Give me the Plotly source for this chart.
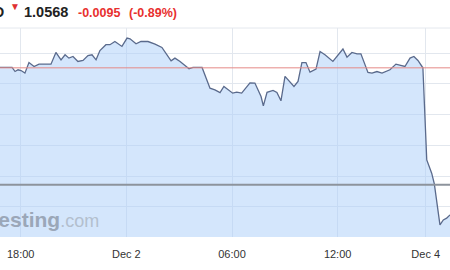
import plotly.graph_objects as go

# hours of trading time since Dec 1 18:00 (weekend gap compressed)
hours = [-1.18, -0.49, -0.32, -0.15, 0.02, 0.24, 0.47, 0.76, 1.04, 1.72,
         2.00, 2.29, 2.52, 2.74, 2.97, 3.25, 3.54, 3.82, 4.05, 4.28,
         4.50, 4.84, 5.07, 5.35, 5.75, 6.04, 6.21, 6.55, 6.83, 7.23,
         7.63, 8.02, 8.54, 8.76, 9.05, 9.27, 9.56, 9.78, 10.30, 10.75,
         11.03, 11.32, 11.54, 12.04, 12.27, 12.55, 13.02, 13.30, 13.65, 13.78,
         13.99, 14.33, 14.55, 14.78, 15.01, 15.52, 15.75, 15.97, 16.20, 16.43,
         16.77, 17.00, 17.28, 17.73, 18.30, 18.53, 18.81, 19.10, 19.32, 19.72,
         19.95, 20.23, 20.52, 20.97, 21.31, 21.82, 22.11, 22.33, 22.56, 22.79,
         22.84, 23.06, 23.34, 23.49, 23.81, 24.00, 24.19, 24.38]
prices = [1.06633, 1.06633, 1.06600, 1.06614, 1.06608, 1.06587, 1.06673, 1.06641, 1.06660, 1.06660,
          1.06755, 1.06695, 1.06736, 1.06709, 1.06722, 1.06682, 1.06690, 1.06730, 1.06736, 1.06695,
          1.06771, 1.06818, 1.06818, 1.06844, 1.06804, 1.06872, 1.06866, 1.06826, 1.06844, 1.06844,
          1.06823, 1.06796, 1.06687, 1.06709, 1.06682, 1.06655, 1.06622, 1.06633, 1.06633, 1.06465,
          1.06451, 1.06429, 1.06478, 1.06424, 1.06432, 1.06424, 1.06508, 1.06506, 1.06397, 1.06321,
          1.06431, 1.06446, 1.06429, 1.06362, 1.06560, 1.06478, 1.06519, 1.06673, 1.06673, 1.06595,
          1.06620, 1.06763, 1.06736, 1.06682, 1.06783, 1.06717, 1.06755, 1.06744, 1.06744, 1.06592,
          1.06587, 1.06600, 1.06587, 1.06614, 1.06660, 1.06641, 1.06709, 1.06722, 1.06690, 1.06641,
          1.06633, 1.05881, 1.05773, 1.05686, 1.05352, 1.05393, 1.05407, 1.05434]

tick_vals = [0, 6, 12, 18, 23]
tick_text = ["18:00", "Dec 2", "06:00", "12:00", "Dec 4"]

prev_close = 1.0663
last_price = 1.0568
symbol = "EUR/USD"
price_text = "1.0568"
change_text = "-0.0095"
pct_text = "(-0.89%)"

W, H = 450, 270
T, B = 28, 33
PH = H - T - B

def py(ypx):
    return 1 + (T - ypx) / PH

fig = go.Figure()
fig.add_trace(go.Scatter(
    x=hours, y=prices, mode="lines", fill="tozeroy",
    line=dict(color="#5a6a8c", width=1.3),
    fillcolor="rgba(170,206,250,0.5)", hoverinfo="skip"))

fig.add_hline(y=prev_close, line=dict(color="#e58a86", width=1))
fig.add_hline(y=last_price, line=dict(color="#8d939c", width=2))
fig.add_shape(type="line", xref="paper", yref="paper", x0=0, x1=1, y0=1, y1=1,
              line=dict(color="#e4e8ee", width=1))

anns = [
    dict(text="<b>" + symbol + "</b>", x=6 / W, y=py(12), xanchor="right",
         font=dict(size=14.5, color="#222")),
    dict(text="▼", x=14.5 / W, y=py(6.5), xanchor="center",
         font=dict(size=10, color="#e03030")),
    dict(text="<b>" + price_text + "</b>", x=22 / W, y=py(12), xanchor="left",
         font=dict(size=14.5, color="#222")),
    dict(text="<b>" + change_text + "</b>", x=76 / W, y=py(12.5), xanchor="left",
         font=dict(size=12.5, color="#e8302f")),
    dict(text="<b>" + pct_text + "</b>", x=127 / W, y=py(12.5), xanchor="left",
         font=dict(size=12.5, color="#e8302f")),
    dict(text="<b><span style='color:#9ba7b8'>investing</span></b>"
              "<span style='color:#b3bfce;font-size:18px'>.com</span>",
         x=101 / W, y=(H - B - 219) / PH, xanchor="right", yanchor="middle",
         font=dict(size=21)),
]
for a in anns:
    a.setdefault("yanchor", "middle")
    fig.add_annotation(xref="paper", yref="paper", showarrow=False,
                       font_family="Liberation Sans", **a)

fig.update_layout(
    width=W, height=H, margin=dict(l=0, r=0, t=T, b=B),
    paper_bgcolor="white", plot_bgcolor="white", showlegend=False,
    font=dict(family="Liberation Sans", size=11, color="#333"),
    xaxis=dict(range=[-1.175, 24.38], tickvals=tick_vals, ticktext=tick_text,
               showgrid=True, gridcolor="#e2e7ee", gridwidth=1, zeroline=False,
               ticks="outside", ticklen=7, tickcolor="rgba(0,0,0,0)",
               showline=False, tickfont=dict(size=11, color="#333")),
    yaxis=dict(range=[1.05254, 1.06954], dtick=0.0025, tick0=1.0525,
               showgrid=True, gridcolor="#e2e7ee", gridwidth=1, zeroline=False,
               showticklabels=False, ticks="", showline=False),
)
fig.write_html("out.html")
